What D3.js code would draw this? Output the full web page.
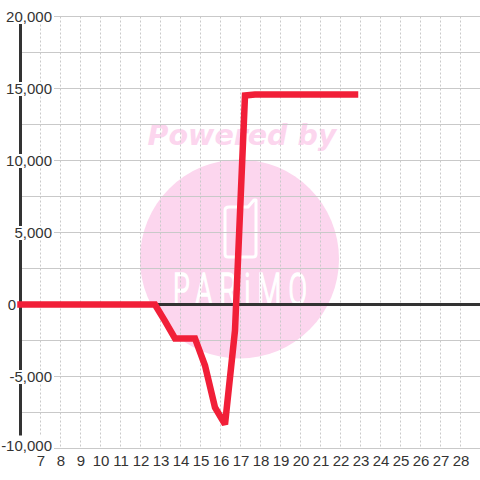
<!DOCTYPE html>
<html><head><meta charset="utf-8">
<script src="https://cdn.jsdelivr.net/npm/d3@7"></script>
<style>html,body{margin:0;padding:0;background:#fff}svg{display:block}</style>
</head><body><svg id="c" width="480" height="480"></svg>
<script>
const xTicks = [7,8,9,10,11,12,13,14,15,16,17,18,19,20,21,22,23,24,25,26,27,28];
const yMajor = [20000,15000,10000,5000,0,-5000,-10000];
const yMinor = [17500,12500,7500,2500,-2500,-7500];
const lineX = [6,12.725,13.225,13.725,14.725,15.225,15.725,16.225,16.725,17.225,17.725,22.725];
const lineY = [0,0,-1150,-2360,-2360,-4240,-7150,-8330,-1800,14510,14580,14580];
const watermarkTop = "Powered by";
const watermarkBrand = "PARiMO";

const svg = d3.select("#c");
const x = d3.scaleLinear().domain([6,29]).range([20.5,480.5]);
const y = d3.scaleLinear().domain([-10000,20000]).range([448.5,16.5]);
const pink = "#fcd6ee", grid = "#c9c9c9", ink = "#333333";

// watermark
const wm = svg.append("g");
wm.append("circle").attr("cx",239.5).attr("cy",259).attr("r",99.5).attr("fill",pink);
wm.append("text").attr("x",242).attr("y",145).attr("text-anchor","middle")
  .attr("font-family","DejaVu Sans").attr("font-weight","bold").attr("font-style","italic")
  .attr("font-size",28.5).attr("fill",pink).text(watermarkTop);
wm.append("path").attr("fill","none").attr("stroke","#fff").attr("stroke-width",3).attr("stroke-linejoin","round").attr("stroke-linecap","round")
  .attr("d","M229 207 H248 L254 200 H256 V254 Q256 257 253 257 H228 Q225 257 225 254 V210 Q225 207 229 207 Z");
wm.append("text").attr("transform","translate(173,305) scale(0.62,1)")
  .attr("font-family","Roboto").attr("font-weight",300).attr("font-size",44).attr("fill","#fff")
  .attr("stroke","#fff").attr("stroke-width",1.7)
  .attr("textLength",216).attr("lengthAdjust","spacing").text(watermarkBrand);

// grid
svg.append("g").selectAll("line").data(xTicks).join("line")
  .attr("x1",d=>x(d)).attr("x2",d=>x(d)).attr("y1",y(20000)).attr("y2",y(-10000))
  .attr("stroke",grid).attr("stroke-width",1).attr("stroke-dasharray","2,2");
svg.append("g").selectAll("line").data(yMajor.concat(yMinor).filter(d=>d!==0)).join("line")
  .attr("x1",20).attr("x2",480).attr("y1",d=>y(d)).attr("y2",d=>y(d))
  .attr("stroke",grid).attr("stroke-width",1.2);

// axes
svg.append("line").attr("x1",x(6)).attr("x2",x(6)).attr("y1",y(20000)).attr("y2",y(-10000)).attr("stroke",ink).attr("stroke-width",3);
svg.append("line").attr("x1",x(6)).attr("x2",480).attr("y1",y(0)).attr("y2",y(0)).attr("stroke",ink).attr("stroke-width",3);

// y labels
const fmt = d => d3.format(",")(d).replace("\u2212","-");
const yAxis = d3.axisLeft(y).tickValues(yMajor).tickSize(0).tickFormat(fmt);
const yg = svg.append("g").attr("transform","translate(52,0)").call(yAxis);
yg.select(".domain").remove();
yg.selectAll(".tick").each(function(d){
  const g = d3.select(this);
  g.attr("transform",`translate(0,${y(d)})`);
  g.select("text").attr("x",d===0?-36:0).attr("dy",null)
    .attr("y",d===-10000?2:5).attr("font-family","Liberation Sans").attr("font-size",15).attr("fill",ink);
  if(d!==0){
    const w = this.querySelector("text").getComputedTextLength();
    g.insert("rect","text").attr("x",-w-1).attr("y",d===-10000?-13:-6.5).attr("width",w+3)
      .attr("height",d===-10000?15:14).attr("fill","#fff");
  }
});
const xAxis = d3.axisBottom(x).tickValues(xTicks).tickSize(0).tickFormat(d3.format("d"));
const xg = svg.append("g").attr("transform","translate(0,452)").call(xAxis);
xg.select(".domain").remove();
xg.selectAll("text").attr("dy",null).attr("y",14).attr("font-family","Liberation Sans").attr("font-size",15).attr("fill",ink);

// series
const line = d3.line().x((d,i)=>x(lineX[i])).y(d=>y(d));
svg.append("path").attr("d",line(lineY)).attr("fill","none").attr("stroke","#f11f38")
  .attr("stroke-width",6.5).attr("stroke-linecap","square").attr("stroke-linejoin","miter").attr("stroke-miterlimit",2);
</script></body></html>
